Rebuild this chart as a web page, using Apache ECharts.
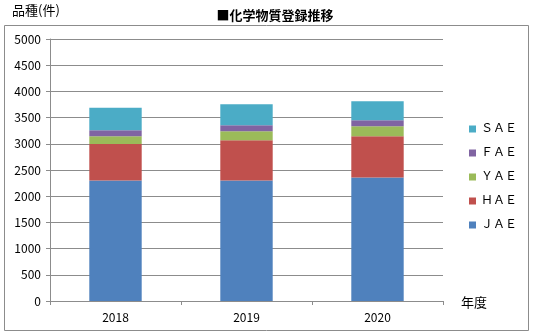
<!DOCTYPE html>
<html>
<head>
<meta charset="utf-8">
<script src="https://cdn.jsdelivr.net/npm/echarts@6/dist/echarts.min.js"></script>
<style>
  html, body { margin: 0; padding: 0; background: #fff; }
  #chart { width: 534px; height: 336px; }
</style>
</head>
<body>
<div id="chart"></div>
<script>
// 化学物質登録推移（年度別・品種数）
const years = ['2018', '2019', '2020'];
const jae = [2300, 2300, 2358];
const hae = [695, 766, 788];
const yae = [150, 172, 187];
const fae = [114, 115, 115];
const sae = [427, 403, 365];
const yTicks = [0, 500, 1000, 1500, 2000, 2500, 3000, 3500, 4000, 4500, 5000];

const FONT = '"Noto Sans CJK JP", "Noto Sans", sans-serif';
const seriesDefs = [
  { name: 'ＪＡＥ', data: jae, color: '#4F81BD' },
  { name: 'ＨＡＥ', data: hae, color: '#C0504D' },
  { name: 'ＹＡＥ', data: yae, color: '#9BBB59' },
  { name: 'ＦＡＥ', data: fae, color: '#8064A2' },
  { name: 'ＳＡＥ', data: sae, color: '#4BACC6' }
];

const chart = echarts.init(document.getElementById('chart'), null, { renderer: 'canvas' });
chart.setOption({
  animation: false,
  backgroundColor: '#fff',
  textStyle: { fontFamily: FONT },
  title: {
    text: '■化学物質登録推移',
    left: 270, top: 4, textAlign: 'center',
    textStyle: { fontFamily: FONT, fontSize: 13, fontWeight: 'bold', color: '#000' }
  },
  graphic: [
    {
      type: 'rect', z: -1, silent: true,
      shape: { x: 4.5, y: 25.5, width: 524, height: 305 },
      style: { fill: 'none', stroke: '#8c8c8c', lineWidth: 1 }
    },
    {
      type: 'text', left: 12, top: 4,
      style: { text: '品種(件)', font: '13px ' + FONT, fill: '#000' }
    },
    {
      type: 'text', left: 461, top: 296,
      style: { text: '年度', font: '13px ' + FONT, fill: '#000' }
    }
  ],
  legend: {
    orient: 'vertical',
    left: 464, top: 118,
    itemWidth: 7, itemHeight: 7, itemGap: 12,
    icon: 'rect',
    data: seriesDefs.map(s => s.name).reverse(),
    textStyle: { fontFamily: '"Liberation Serif", "Noto Sans CJK JP", serif', fontSize: 12, color: '#000' }
  },
  grid: { left: 50, right: 91, top: 39, bottom: 35, containLabel: false },
  xAxis: {
    type: 'category',
    data: years,
    axisLine: { lineStyle: { color: '#8c8c8c' } },
    axisTick: { show: true, length: 4, lineStyle: { color: '#8c8c8c' } },
    axisLabel: { color: '#000', fontSize: 12, margin: 10, fontFamily: FONT }
  },
  yAxis: {
    type: 'value',
    min: yTicks[0], max: yTicks[yTicks.length - 1], interval: 500,
    axisLine: { show: true, lineStyle: { color: '#8c8c8c' } },
    axisTick: { show: true, length: 4, lineStyle: { color: '#8c8c8c' } },
    splitLine: { lineStyle: { color: '#8c8c8c' } },
    axisLabel: { color: '#000', fontSize: 12, margin: 9, fontFamily: FONT, formatter: v => String(v) }
  },
  series: seriesDefs.map(s => ({
    name: s.name,
    type: 'bar',
    stack: 'total',
    barWidth: '40%',
    data: s.data,
    itemStyle: { color: s.color }
  }))
});
</script>
</body>
</html>
